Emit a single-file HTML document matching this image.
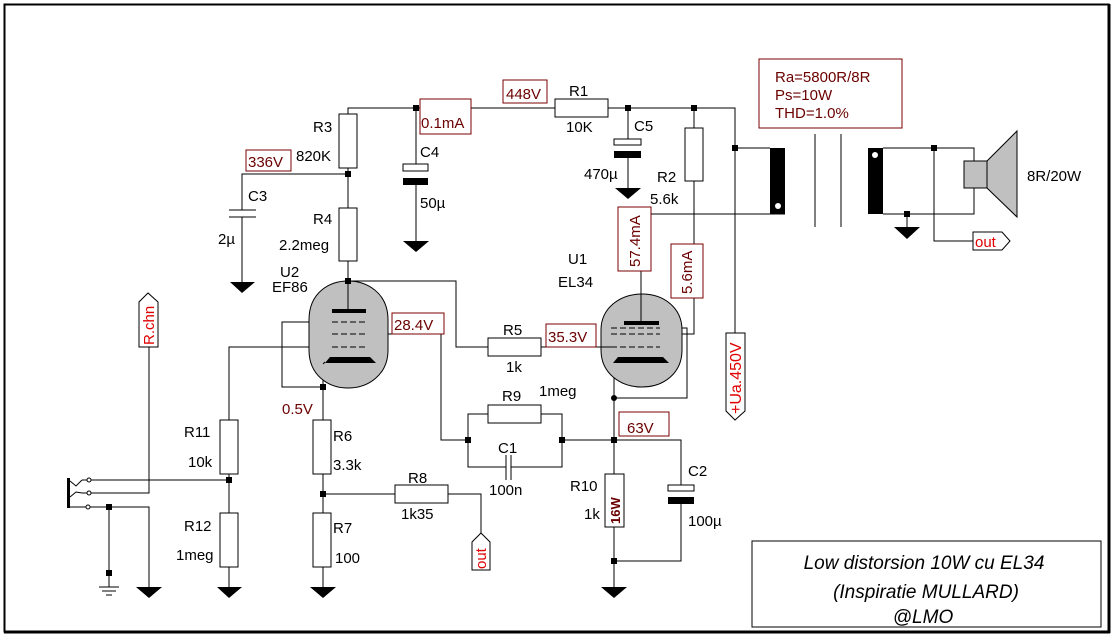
<!DOCTYPE html>
<html><head><meta charset="utf-8"><style>
html,body{margin:0;padding:0;background:#fff;}
svg{display:block;}
text{font-family:"Liberation Sans",sans-serif;font-size:15px;fill:#000;}
.r{fill:#6b0000;}
.t{fill:#e00000;}
</style></head><body>
<svg width="1114" height="637" viewBox="0 0 1114 637" xmlns="http://www.w3.org/2000/svg">
<rect x="0" y="0" width="1114" height="637" fill="#fff"/>
<rect x="4.5" y="4.5" width="1104" height="627" fill="none" stroke="#000" stroke-width="2"/>
<line x1="1109" y1="4" x2="1109" y2="633" stroke="#000" stroke-width="3"/>
<line x1="4" y1="632" x2="1110" y2="632" stroke="#000" stroke-width="3"/>

<g stroke="#000" stroke-width="1" fill="none">
<polyline points="348,114 348,108 735,108 735,333"/>
<rect x="339" y="114" width="18" height="54" fill="#fff"/>
<line x1="348" y1="168" x2="348" y2="208"/>
<rect x="339" y="208" width="18" height="53" fill="#fff"/>
<line x1="348" y1="261" x2="348" y2="309"/>
<polyline points="348,174 242,174 242,210"/>
<line x1="229" y1="210" x2="256" y2="210"/>
<line x1="229" y1="217" x2="256" y2="217"/>
<line x1="242" y1="217" x2="242" y2="282"/>
<line x1="416" y1="108" x2="416" y2="164"/>
<rect x="403" y="164" width="25" height="7" fill="#fff"/>
<line x1="416" y1="185" x2="416" y2="241"/>
<polyline points="348,281 456,281 456,347 488,347"/>
<rect x="488" y="338" width="53" height="18" fill="#fff"/>
<line x1="541" y1="347" x2="604" y2="347"/>
<rect x="555" y="99" width="53" height="18" fill="#fff"/>
<line x1="628" y1="108" x2="628" y2="139"/>
<rect x="614" y="139" width="27" height="6" fill="#fff"/>
<line x1="628" y1="158" x2="628" y2="188"/>
<line x1="694" y1="108" x2="694" y2="128"/>
<rect x="685" y="128" width="18" height="53" fill="#fff"/>
<polyline points="694,181 694,334 660,334"/>
<polyline points="660,328 687,328 687,398 614,398"/>
<polyline points="641,321 641,214 785,214"/>
<line x1="735" y1="148" x2="770" y2="148"/>
<line x1="815" y1="134" x2="815" y2="227"/>
<line x1="841" y1="134" x2="841" y2="227"/>
<polyline points="883,148 974,148 974,161"/>
<polyline points="883,214 974,214 974,188"/>
<line x1="907" y1="214" x2="907" y2="227"/>
<polyline points="934,148 934,241 973,241"/>
<polyline points="332,322 282,322 282,387 323,387"/>
<polyline points="366,334 441,334 441,440 468,440"/>
<polyline points="332,347 229,347 229,420"/>
<line x1="323" y1="362" x2="323" y2="420"/>
<rect x="220" y="420" width="18" height="54" fill="#fff"/>
<line x1="229" y1="474" x2="229" y2="513"/>
<rect x="220" y="513" width="18" height="54" fill="#fff"/>
<line x1="229" y1="567" x2="229" y2="587"/>
<rect x="313" y="420" width="18" height="54" fill="#fff"/>
<line x1="323" y1="474" x2="323" y2="513"/>
<rect x="313" y="513" width="18" height="54" fill="#fff"/>
<line x1="323" y1="567" x2="323" y2="587"/>
<line x1="323" y1="494" x2="395" y2="494"/>
<rect x="395" y="485" width="53" height="18" fill="#fff"/>
<polyline points="448,494 481,494 481,533"/>
<line x1="90" y1="480" x2="229" y2="480"/>
<polyline points="90,493 149,493 149,347"/>
<polyline points="90,507 149,507 149,587"/>
<line x1="109" y1="507" x2="109" y2="587"/>
<polyline points="70,481 76,486 82,480"/><polyline points="70,497 76,492 82,493"/>
<line x1="70" y1="507" x2="87" y2="507"/>
<line x1="82" y1="480" x2="87" y2="480"/><line x1="82" y1="493" x2="87" y2="493"/>
<circle cx="89" cy="480" r="2" fill="#fff"/><circle cx="89" cy="493" r="2" fill="#fff"/><circle cx="88" cy="507" r="2" fill="#fff"/>
<line x1="99" y1="587" x2="119" y2="587"/><line x1="102" y1="591" x2="116" y2="591"/><line x1="106" y1="595" x2="112" y2="595"/>
<rect x="468" y="414" width="94" height="53"/>
<rect x="488" y="405" width="53" height="18" fill="#fff"/>
<line x1="498" y1="467" x2="520" y2="467" stroke="#fff" stroke-width="3"/>
<polyline points="498,467 506,467"/><polyline points="511,467 520,467"/>
<line x1="506" y1="455" x2="506" y2="480"/><line x1="511" y1="455" x2="511" y2="480"/>
<line x1="562" y1="440" x2="614" y2="440"/>
<line x1="614" y1="364" x2="614" y2="474"/>
<rect x="605" y="474" width="19" height="53" fill="#fff"/>
<line x1="614" y1="527" x2="614" y2="587"/>
<polyline points="614,440 681,440 681,485"/>
<rect x="668" y="485" width="26" height="6" fill="#fff"/>
<polyline points="681,504 681,561 614,561"/>
<rect x="759" y="59" width="143" height="69" stroke="#7a0000"/>
<rect x="752" y="541" width="349" height="86"/>
</g>

<g fill="#000">
<rect x="403" y="178" width="25" height="7"/>
<rect x="614" y="151" width="27" height="7"/>
<rect x="668" y="497" width="26" height="7"/>
<rect x="67" y="478" width="3" height="30"/>
<rect x="770" y="148" width="15" height="66"/>
<rect x="868" y="148" width="15" height="66"/>
</g>
<circle cx="778" cy="206" r="3" fill="#fff"/>
<circle cx="875" cy="155" r="3" fill="#fff"/>

<g fill="#000">
<polygon points="230,282 255,282 242,293"/>
<polygon points="403,241 429,241 416,252"/>
<polygon points="615,188 641,188 628,199"/>
<polygon points="894,227 920,227 907,239"/>
<polygon points="136,587 162,587 149,598"/>
<polygon points="217,587 242,587 229,598"/>
<polygon points="310,587 336,587 323,598"/>
<polygon points="601,587 627,587 614,598"/>
</g>

<g stroke="#000" stroke-width="1">
<path d="M309,320 C309,292 330,281 348,281 C366,281 388,292 388,320 L388,350 C388,375 368,388 348,388 C328,388 309,375 309,350 Z" fill="#c0c0c0"/>
<path d="M601,330 C601,308 620,294 642,294 C664,294 682,308 682,330 L682,350 C682,373 664,387 642,387 C620,387 601,373 601,350 Z" fill="#c0c0c0"/>
</g>
<g stroke="#000">
<line x1="348" y1="281" x2="348" y2="309"/>
<line x1="332" y1="322" x2="366" y2="322" stroke-dasharray="6,3"/>
<line x1="332" y1="334" x2="366" y2="334" stroke-dasharray="6,3"/>
<line x1="332" y1="347" x2="366" y2="347" stroke-dasharray="6,3"/>
<line x1="641" y1="214" x2="641" y2="321"/>
<line x1="611" y1="328" x2="660" y2="328" stroke-dasharray="6,3"/>
<line x1="611" y1="334" x2="660" y2="334" stroke-dasharray="6,3"/>
<line x1="611" y1="347" x2="660" y2="347" stroke-dasharray="6,3"/>
<line x1="601" y1="347" x2="611" y2="347"/>
</g>
<rect x="332" y="309" width="34" height="4" fill="#000"/>
<polygon points="330,357 370,357 376,363 325,363" fill="#000"/>
<line x1="325" y1="362" x2="323" y2="364" stroke="#000"/>
<rect x="624" y="321" width="35" height="4" fill="#000"/>
<polygon points="618,357 663,357 669,363 613,363" fill="#000"/>

<rect x="964" y="161" width="23" height="27" fill="#c0c0c0" stroke="#000"/>
<polygon points="987,161 1017,131 1017,217 987,188" fill="#c0c0c0" stroke="#000"/>

<g fill="#000">
<rect x="413" y="105" width="6" height="6"/>
<rect x="625" y="105" width="6" height="6"/>
<rect x="691" y="105" width="6" height="6"/>
<rect x="732" y="145" width="6" height="6"/>
<rect x="345" y="171" width="6" height="6"/>
<rect x="345" y="278" width="6" height="6"/>
<rect x="320" y="384" width="6" height="6"/>
<rect x="320" y="491" width="6" height="6"/>
<rect x="226" y="477" width="6" height="6"/>
<rect x="106" y="504" width="6" height="6"/>
<rect x="106" y="570" width="6" height="6"/>
<rect x="465" y="437" width="6" height="6"/>
<rect x="559" y="437" width="6" height="6"/>
<rect x="611" y="437" width="6" height="6"/>
<rect x="611" y="558" width="6" height="6"/>
<rect x="931" y="145" width="6" height="6"/>
<rect x="904" y="211" width="6" height="6"/>
<circle cx="614" cy="398" r="3"/>
</g>

<g fill="#fff" stroke="#7a0000">
<rect x="420" y="99" width="51" height="35"/>
<rect x="503" y="80" width="44" height="23"/>
<rect x="246" y="150" width="45" height="21"/>
<rect x="392" y="313" width="52" height="21"/>
<rect x="546" y="324" width="50" height="23"/>
<rect x="618" y="207" width="33" height="64"/>
<rect x="671" y="244" width="32" height="54"/>
<rect x="619" y="412" width="50" height="24"/>
</g>
<g fill="#fff" stroke="#000">
<polygon points="139,347 139,302 148,293 158,302 158,347"/>
<polygon points="472,570 472,542 481,533 490,542 490,570"/>
<polygon points="726,333 745,333 745,411 735,420 726,411"/>
<polygon points="973,232 1002,232 1010,241 1002,250 973,250"/>
</g>

<text x="313" y="132">R3</text>
<text x="296" y="161">820K</text>
<text x="313" y="224">R4</text>
<text x="279" y="250">2.2meg</text>
<text x="280" y="277">U2</text>
<text x="272" y="292">EF86</text>
<text x="248" y="201">C3</text>
<text x="218" y="244">2µ</text>
<text x="420" y="157">C4</text>
<text x="420" y="208">50µ</text>
<text x="569" y="96">R1</text>
<text x="566" y="132">10K</text>
<text x="634" y="131">C5</text>
<text x="584" y="179">470µ</text>
<text x="657" y="182">R2</text>
<text x="650" y="204">5.6k</text>
<text x="568" y="264">U1</text>
<text x="558" y="287">EL34</text>
<text x="503" y="335">R5</text>
<text x="506" y="372">1k</text>
<text x="502" y="401">R9</text>
<text x="539" y="396">1meg</text>
<text x="498" y="453">C1</text>
<text x="489" y="495">100n</text>
<text x="570" y="491">R10</text>
<text x="584" y="519">1k</text>
<text x="688" y="476">C2</text>
<text x="688" y="526">100µ</text>
<text x="184" y="437">R11</text>
<text x="188" y="467">10k</text>
<text x="184" y="531">R12</text>
<text x="176" y="560">1meg</text>
<text x="333" y="441">R6</text>
<text x="333" y="470">3.3k</text>
<text x="408" y="483">R8</text>
<text x="401" y="519">1k35</text>
<text x="333" y="533">R7</text>
<text x="335" y="563">100</text>
<text x="1027" y="181">8R/20W</text>
<text x="421" y="128" class="r">0.1mA</text>
<text x="506" y="99" class="r">448V</text>
<text x="248" y="167" class="r">336V</text>
<text x="394" y="330" class="r">28.4V</text>
<text x="548" y="342" class="r">35.3V</text>
<text x="282" y="414" class="r">0.5V</text>
<text x="627" y="433" class="r">63V</text>
<text x="775" y="82" class="r">Ra=5800R/8R</text>
<text x="775" y="100" class="r">Ps=10W</text>
<text x="775" y="118" class="r">THD=1.0%</text>
<text class="r" transform="translate(640,267) rotate(-90)">57.4mA</text>
<text class="r" transform="translate(692,294) rotate(-90)">5.6mA</text>
<text class="r" transform="translate(620,524) rotate(-90)" style="font-size:13px;font-weight:bold">16W</text>
<text class="t" transform="translate(154,345) rotate(-90)">R.chn</text>
<text class="t" transform="translate(486,569) rotate(-90)">out</text>
<text class="t" transform="translate(741,414) rotate(-90)" style="font-size:16px">+Ua.450V</text>
<text class="t" x="975" y="247">out</text>
<text x="924" y="569" style="font-style:italic;font-size:19px;text-anchor:middle">Low distorsion 10W cu EL34</text>
<text x="926" y="598" style="font-style:italic;font-size:19px;text-anchor:middle">(Inspiratie MULLARD)</text>
<text x="923" y="623" style="font-style:italic;font-size:19px;text-anchor:middle">@LMO</text>
</svg>
</body></html>
